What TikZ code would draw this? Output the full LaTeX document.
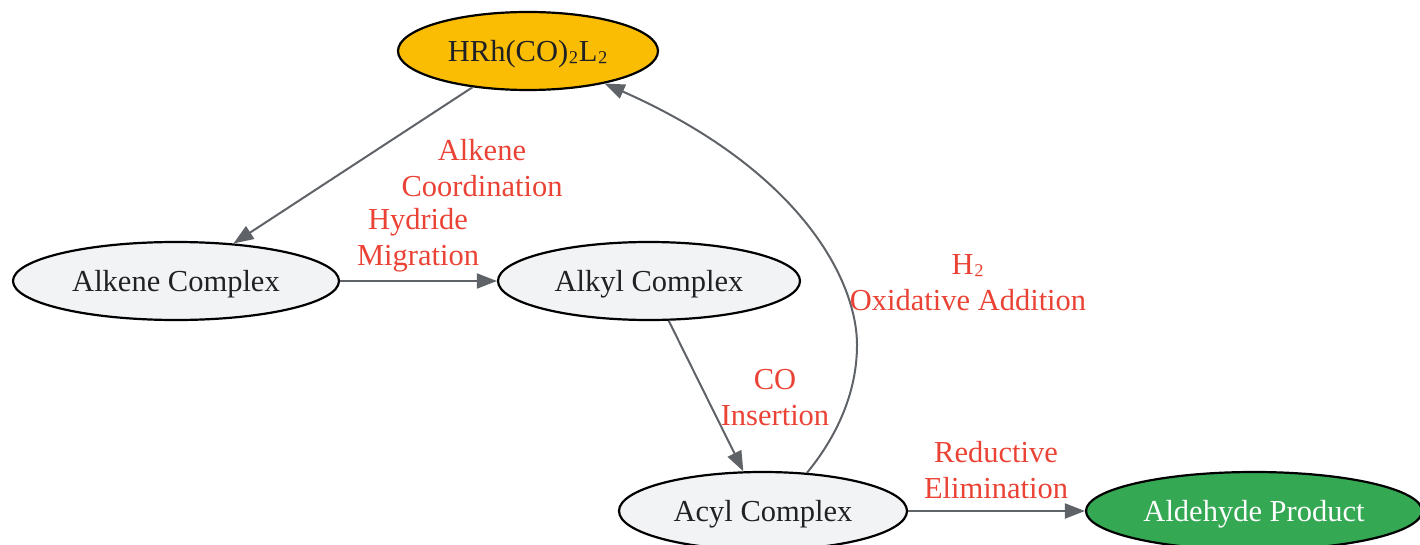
\documentclass[tikz,border=0pt]{standalone}
\usepackage{fontspec}
\setmainfont{Liberation Serif}
\usetikzlibrary{shapes.geometric,arrows.meta}
\definecolor{nodefill}{HTML}{F1F3F4}
\definecolor{txt}{HTML}{202124}
\definecolor{orangefill}{HTML}{FBBC04}
\definecolor{greenfill}{HTML}{34A853}
\definecolor{edgecol}{HTML}{5F6368}
\definecolor{labcol}{HTML}{EA4335}
\newcommand{\subtwo}{\raisebox{4pt}{₂}}
\tikzset{
  state/.style={ellipse, draw=black, line width=2.2pt, fill=nodefill, text=txt, inner sep=0pt,
    text depth=0pt, font=\fontsize{30.5}{36}\selectfont},
  edge/.style={draw=edgecol, line width=2pt, -{Triangle[length=20pt,width=15pt]}},
  elab/.style={text=labcol, align=center, font=\fontsize{30.5}{36}\selectfont, inner sep=0pt}
}
\begin{document}
\begin{tikzpicture}[x=1pt,y=-1pt]
\useasboundingbox (0,0) rectangle (1420,545);
\node[state, fill=orangefill, minimum width=260pt, minimum height=78pt] (hrh) at (528,51) {HRh(CO)\subtwo L\subtwo};
\node[state, minimum width=326pt, minimum height=78pt] (alkene) at (176,281) {Alkene Complex};
\node[state, minimum width=302pt, minimum height=78pt] (alkyl) at (649,281) {Alkyl Complex};
\node[state, minimum width=288pt, minimum height=78pt] (acyl) at (763,511) {Acyl Complex};
\node[state, fill=greenfill, text=white, minimum width=336pt, minimum height=78pt] (ald) at (1254,511) {Aldehyde Product};

\draw[edge] (hrh) -- (alkene);
\draw[edge] (alkene) -- (alkyl);
\draw[edge] (alkyl) -- (acyl);
\draw[edge] (acyl) -- (ald);
\draw[edge] (acyl.41) .. controls (830,445) and (857,400) .. (857,345)
  .. controls (857,280) and (800,170) .. (hrh.-23);

\node[elab] (l1) at (482,168) {Alkene\\Coordination};
\node[elab] (l2) at (418,240) {Hydride\\Migration};
\node[elab] (l3) at (775,398) {CO\\Insertion};
\node[elab] (l4) at (968,283) {H\subtwo\\Oxidative Addition};
\node[elab] (l5) at (996,470) {Reductive\\Elimination};
\end{tikzpicture}
\end{document}
